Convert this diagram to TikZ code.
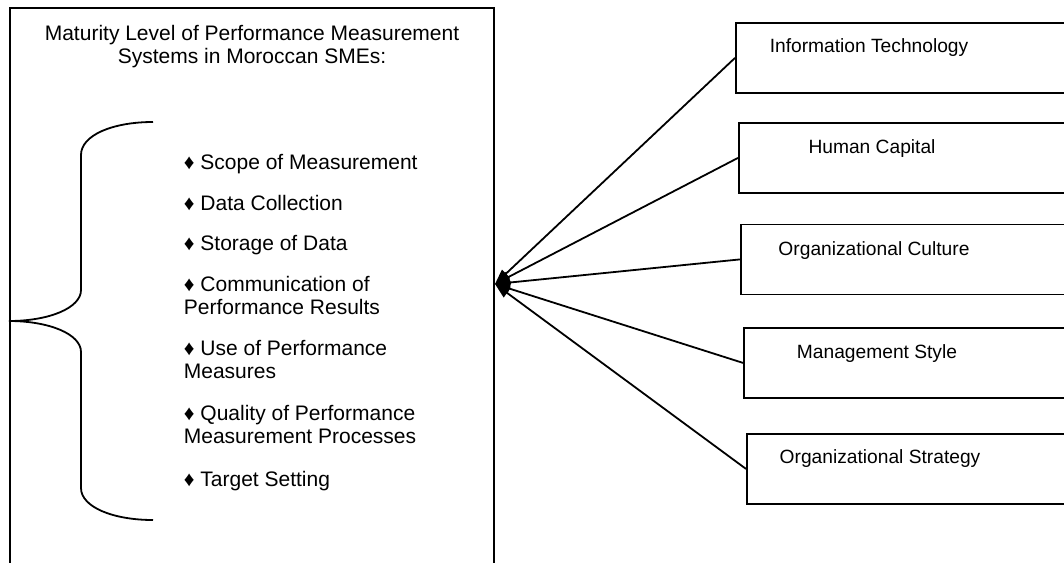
\documentclass[tikz,border=0pt]{standalone}
\usepackage{fontspec}
\setmainfont{Liberation Sans}
\usetikzlibrary{arrows.meta}
\begin{document}
\begin{tikzpicture}[x=1pt,y=-1pt,line width=1.8pt,
  every node/.style={font=\fontsize{21}{23}\selectfont},
  mainbox/.style={draw,rectangle,anchor=north west,inner sep=0pt,minimum width=484pt,minimum height=600pt},
  factor/.style={draw,rectangle,anchor=north west,inner sep=0pt,minimum width=345pt,minimum height=70pt},
  ftext/.style={anchor=base,inner sep=0pt,font=\fontsize{19.2}{22}\selectfont},
  item/.style={anchor=north west,inner sep=0pt,align=left},
  conn/.style={-{Triangle[length=15pt,width=11pt]}},
  brace/.style={line width=1.8pt}]
\useasboundingbox (0,0) rectangle (1064,562);
\clip (0,0) rectangle (1064,562);

% main box
\node[mainbox] (mls) at (9,7) {};
\node[anchor=north,inner sep=0pt,align=center] (title) at (252,24.2)
  {Maturity Level of Performance Measurement\\Systems in Moroccan SMEs:};

% brace
\draw[brace] (153,122) .. controls (113,122) and (81,135) .. (81,155)
  -- (81,290) .. controls (81,308) and (49,321) .. (9,321)
  .. controls (49,321) and (81,334) .. (81,352)
  -- (81,488) .. controls (81,507) and (113,520) .. (153,520);

% items
\node[item] (i1) at (183,153.2) {♦ Scope of Measurement};
\node[item] (i2) at (183,194.2) {♦ Data Collection};
\node[item] (i3) at (183,234.2) {♦ Storage of Data};
\node[item] (i4) at (183,275.2) {♦ Communication of\\Performance Results};
\node[item] (i5) at (183,339.2) {♦ Use of Performance\\Measures};
\node[item] (i6) at (183,404.2) {♦ Quality of Performance\\Measurement Processes};
\node[item] (i7) at (183,470.2) {♦ Target Setting};

% factor boxes
\node[factor] (it) at (735,22) {};
\node[factor] (hc) at (738,122) {};
\node[factor] (oc) at (740,223.5) {};
\node[factor] (ms) at (743,327) {};
\node[factor] (os) at (746,433) {};

\node[ftext] (itt) at ([xshift=134pt,yshift=-30.5pt]it.north west) {Information Technology};
\node[ftext] (hct) at ([xshift=134pt,yshift=-31pt]hc.north west) {Human Capital};
\node[ftext] (oct) at ([xshift=134pt,yshift=-31.5pt]oc.north west) {Organizational Culture};
\node[ftext] (mst) at ([xshift=134pt,yshift=-31pt]ms.north west) {Management Style};
\node[ftext] (ost) at ([xshift=134pt,yshift=-30pt]os.north west) {Organizational Strategy};

% connectors
\coordinate (hub) at (495,284);
\draw[conn] (it.west) -- (hub);
\draw[conn] (hc.west) -- (hub);
\draw[conn] (oc.west) -- (hub);
\draw[conn] (ms.west) -- (hub);
\draw[conn] (os.west) -- (hub);
\end{tikzpicture}
\end{document}
